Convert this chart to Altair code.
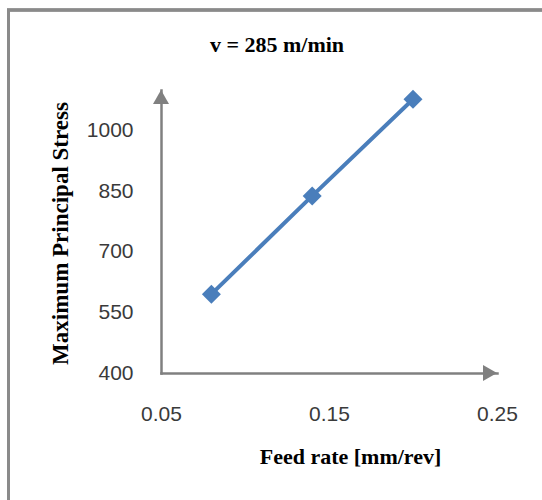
import altair as alt
import pandas as pd

# Measured maximum principal stress vs. feed rate at v = 285 m/min
feed_rate = [0.08, 0.14, 0.20]
max_stress = [595, 838, 1077]

x_ticks = [0.05, 0.15, 0.25]
y_ticks = [400, 550, 700, 850, 1000]
x_domain = [0.05, 0.25]
y_domain = [400, 1100]
chart_title = "v = 285 m/min"

BLUE = "#4a7ebb"
AXIS_GRAY = "#808080"

df = pd.DataFrame({"feed": feed_rate, "stress": max_stress})

x_enc = alt.X(
    "feed:Q",
    scale=alt.Scale(domain=x_domain, nice=False, zero=False),
    axis=alt.Axis(
        values=x_ticks, format=".2f", title="Feed rate [mm/rev]",
        ticks=False, grid=False, labelFlush=False, labelOverlap=False,
        domainColor=AXIS_GRAY, domainWidth=2.5, domainCap="square",
        labelFont="Liberation Sans", labelFontSize=21, labelColor="#3a3a3a",
        labelPadding=30,
        titleFont="Liberation Serif", titleFontWeight="bold", titleFontSize=22,
        titleColor="black", titleX=189, titleY=90, titleBaseline="alphabetic",
        titleAlign="center",
    ),
)
y_enc = alt.Y(
    "stress:Q",
    scale=alt.Scale(domain=y_domain, nice=False, zero=False),
    axis=alt.Axis(
        values=y_ticks, format="d", title="Maximum Principal Stress",
        ticks=False, grid=False, labelFlush=False, labelOverlap=False,
        domainColor=AXIS_GRAY, domainWidth=2.5, domainCap="square",
        labelFont="Liberation Sans", labelFontSize=21, labelColor="#3a3a3a",
        labelPadding=28,
        titleFont="Liberation Serif", titleFontWeight="bold", titleFontSize=23,
        titleColor="black", titleX=-94, titleY=143, titleAngle=270,
        titleBaseline="alphabetic", titleAlign="center",
    ),
)

base = alt.Chart(df)

# outer frame around the whole figure
frame = base.mark_rect(fill=None, stroke="#8a8a8a", strokeWidth=3).encode(
    x=alt.value(-152.5), x2=alt.value(600), y=alt.value(-80), y2=alt.value(600)
)

# chart heading
heading = alt.Chart(pd.DataFrame({"t": [chart_title]})).mark_text(
    font="Liberation Serif", fontWeight="bold", fontSize=22, color="black",
    align="center", baseline="alphabetic",
).encode(text="t:N", x=alt.value(116), y=alt.value(-38))

line = base.mark_line(color=BLUE, strokeWidth=4).encode(x=x_enc, y=y_enc)
points = base.mark_point(
    shape="diamond", filled=True, color=BLUE, size=360, opacity=1
).encode(x="feed:Q", y="stress:Q")

# arrowheads at the ends of the axes
arrow_df_y = pd.DataFrame({"feed": [x_domain[0]], "stress": [y_domain[1]]})
arrow_df_x = pd.DataFrame({"feed": [x_domain[1]], "stress": [y_domain[0]]})
arrow_y = alt.Chart(arrow_df_y).mark_point(
    shape="M-1,1.75L1,1.75L0,0Z", filled=True, color=AXIS_GRAY, size=256, opacity=1
).encode(x="feed:Q", y="stress:Q")
arrow_x = alt.Chart(arrow_df_x).mark_point(
    shape="M-1.75,-1L-1.75,1L0,0Z", filled=True, color=AXIS_GRAY, size=256, opacity=1
).encode(x="feed:Q", y="stress:Q")

chart = (
    alt.layer(frame, heading, line, points, arrow_y, arrow_x)
    .properties(
        width=336,
        height=283,
        autosize=alt.AutoSizeParams(type="none"),
        padding={"left": 161, "top": 90, "right": 45, "bottom": 127},
        background="white",
    )
    .configure_view(stroke=None)
)

chart.save("out.html", embed_options={"renderer": "svg", "actions": False})
